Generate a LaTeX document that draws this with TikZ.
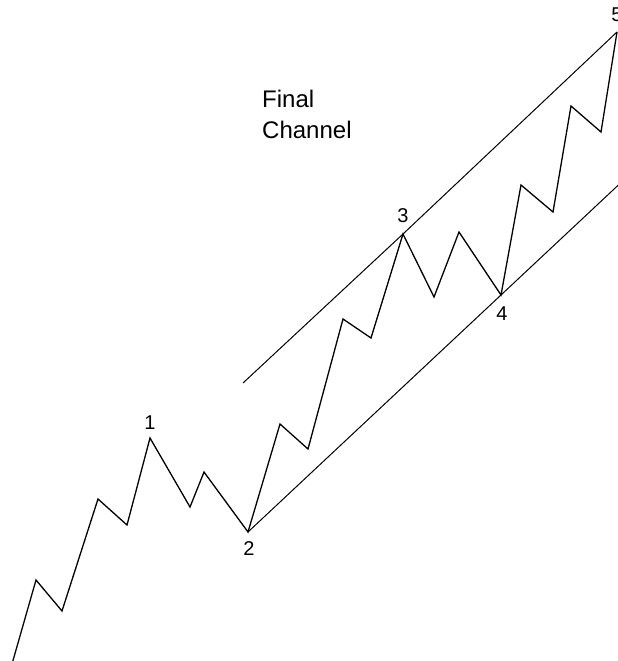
\documentclass[tikz,border=0pt]{standalone}
\usepackage{fontspec}
\setmainfont{Liberation Sans}
\begin{document}
\begin{tikzpicture}[x=1pt,y=-1pt,
  wave/.style={line width=1.3pt,line join=miter},
  chan/.style={line width=1pt},
  lbl/.style={font=\fontsize{20}{24}\selectfont,inner sep=0pt},
  title/.style={font=\fontsize{24}{31}\selectfont,inner sep=0pt,align=left,anchor=west}]
\useasboundingbox (0,0) rectangle (618,661);
\fill[white] (0,0) rectangle (618,661);
% wave points
\coordinate (w0) at (12,664);
\coordinate (w1) at (36,580);
\coordinate (w2) at (62,611);
\coordinate (w3) at (98,499);
\coordinate (w4) at (127,525);
\coordinate (p1) at (150,438);
\coordinate (w6) at (190,507);
\coordinate (w7) at (204,472);
\coordinate (p2) at (248,532);
\coordinate (w9) at (280,424);
\coordinate (w10) at (308,449);
\coordinate (w11) at (343,319);
\coordinate (w12) at (371,338);
\coordinate (p3) at (403,234);
\coordinate (w14) at (434,297);
\coordinate (w15) at (459,232);
\coordinate (p4) at (501,295);
\coordinate (w17) at (521,185);
\coordinate (w18) at (553,212);
\coordinate (w19) at (571,106);
\coordinate (w20) at (601,132);
\coordinate (p5) at (617,32);
% channel ends
\coordinate (u0) at (243,383);
\coordinate (l1) at (628,176);
\draw[chan] (u0) -- (p3) -- (p5);
\draw[chan] (p2) -- (p4) -- (l1);
\draw[wave] (w0) -- (w1) -- (w2) -- (w3) -- (w4) -- (p1) -- (w6) -- (w7) -- (p2)
  -- (w9) -- (w10) -- (w11) -- (w12) -- (p3) -- (w14) -- (w15) -- (p4)
  -- (w17) -- (w18) -- (w19) -- (w20) -- (p5);
% labels
\node[lbl] (n1) at (150,423) {1};
\node[lbl] (n2) at (249,549) {2};
\node[lbl] (n3) at (403,216) {3};
\node[lbl] (n4) at (502,314) {4};
\node[lbl] (n5) at (617,15) {5};
\node[title] (t) at (262,114) {Final\\Channel};
\end{tikzpicture}
\end{document}
